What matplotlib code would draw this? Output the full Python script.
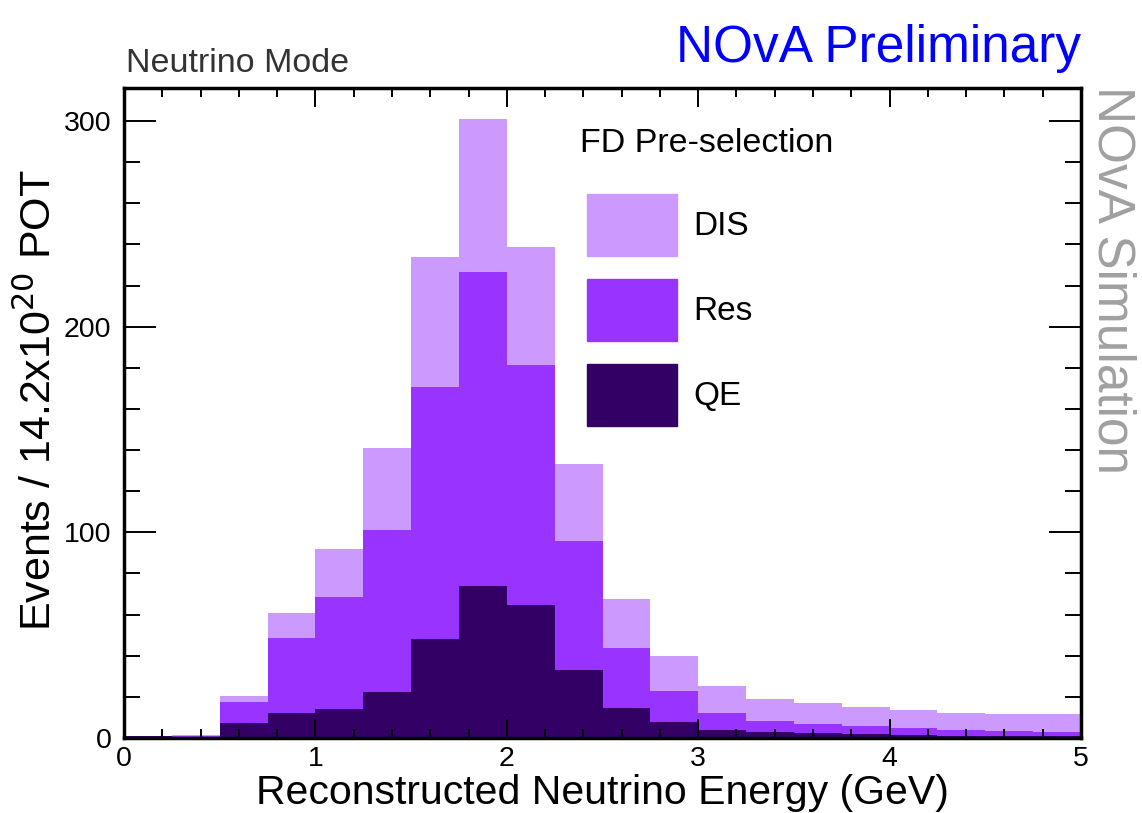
import numpy as np
import matplotlib.pyplot as plt
from matplotlib.patches import Patch
from matplotlib.ticker import MultipleLocator

plt.rcParams['font.family'] = ['Liberation Sans', 'DejaVu Sans']

# binning (GeV) and stacked components (events per bin)
edges = np.arange(0, 5.0001, 0.25)
qe = [0.8, 0.2, 7.3, 12.1, 14.2, 22.4, 48.3, 74.0, 64.7, 33.2,
      14.6, 7.9, 3.9, 3.1, 2.4, 1.8, 1.5, 1.2, 1.0, 0.9]
res = [0.0, 1.0, 10.3, 36.7, 54.2, 78.6, 122.5, 152.5, 116.6, 62.7,
       29.0, 15.2, 8.1, 5.0, 4.4, 3.9, 3.4, 2.7, 2.6, 2.2]
dis = [0.0, 0.3, 3.0, 11.8, 23.4, 39.8, 63.0, 74.3, 57.5, 37.1,
       24.2, 16.9, 13.4, 10.7, 10.1, 9.2, 8.7, 8.1, 8.1, 8.4]

c_dis, c_res, c_qe = '#CC99FF', '#9933FF', '#330066'

fig = plt.figure(figsize=(11.42, 8.13), dpi=100)
ax = fig.add_axes([0.1086, 0.0922, 0.838, 0.7995])

qe_a = np.array(qe)
res_top = qe_a + np.array(res)
tot = res_top + np.array(dis)

ax.stairs(tot, edges, baseline=res_top, fill=True, color=c_dis)
ax.stairs(res_top, edges, baseline=qe_a, fill=True, color=c_res)
ax.stairs(qe_a, edges, baseline=0, fill=True, color=c_qe)

ax.set_xlim(0, 5)
ax.set_ylim(0, 316)
ax.xaxis.set_major_locator(MultipleLocator(1))
ax.xaxis.set_minor_locator(MultipleLocator(0.2))
ax.yaxis.set_major_locator(MultipleLocator(100))
ax.yaxis.set_minor_locator(MultipleLocator(20))
ax.tick_params(which='both', direction='in', top=True, right=True,
               labelsize=20.5, width=1.4, colors='black')
ax.tick_params(axis='x', which='major', length=13.5, pad=6)
ax.tick_params(axis='x', which='minor', length=6.5)
ax.tick_params(axis='y', which='major', length=23, pad=9)
ax.tick_params(axis='y', which='minor', length=11.5)
for s in ax.spines.values():
    s.set_linewidth(2.5)
    s.set_zorder(5)

ax.set_xlabel('Reconstructed Neutrino Energy (GeV)', fontsize=29.5, labelpad=1)
ax.set_ylabel(r'Events / 14.2x10$^{20}$ POT', fontsize=31)
ax.yaxis.set_label_coords(-0.067, 0.52)

# legend: title drawn separately so the gap below it matches
ax.text(0.4765, 0.915, 'FD Pre-selection', transform=ax.transAxes,
        fontsize=24.5, ha='left', va='center')
handles = [Patch(color=c_dis, label='DIS'),
           Patch(color=c_res, label='Res'),
           Patch(color=c_qe, label='QE')]
leg = ax.legend(handles=handles, loc='upper left',
                bbox_to_anchor=(0.466, 0.863), frameon=False, fontsize=24,
                handlelength=2.7, handleheight=2.49,
                labelspacing=0.69, handletextpad=0.5, borderpad=0)

fig.text(0.110, 0.922, 'Neutrino Mode', fontsize=24.5, color='#333333',
         va='center', ha='left')
fig.text(0.947, 0.940, 'NOvA Preliminary', fontsize=37, color='#0000FF',
         va='center', ha='right')
fig.text(0.974, 0.656, 'NOvA Simulation', fontsize=37, color='#A0A0A0',
         va='center', ha='center', rotation=270)

fig.savefig('out.png', dpi=100)
